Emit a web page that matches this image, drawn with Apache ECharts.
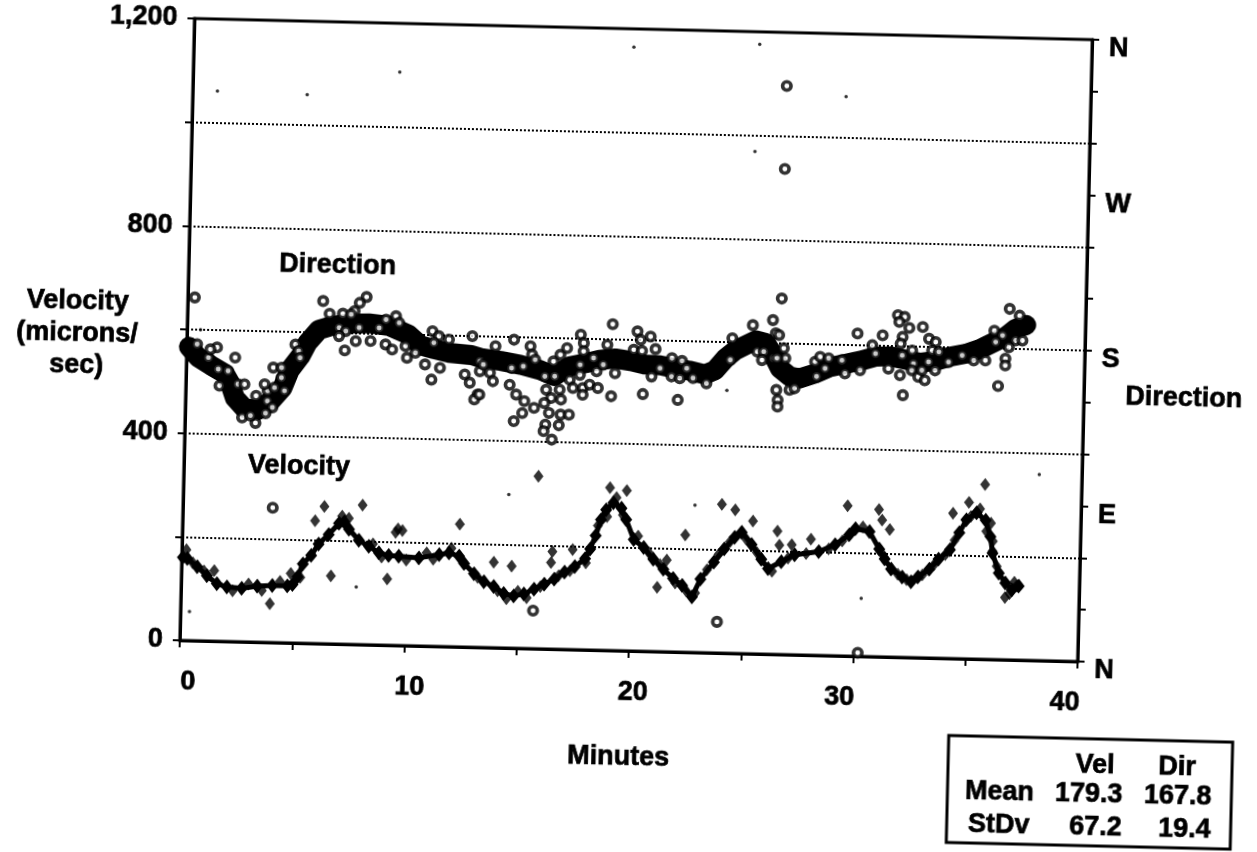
<!DOCTYPE html>
<html>
<head>
<meta charset="utf-8">
<script src="https://cdn.jsdelivr.net/npm/echarts@6.0.0/dist/echarts.min.js"></script>
<style>
html,body{margin:0;padding:0;background:#fff;overflow:hidden;width:1257px;height:852px;}
#chart{position:absolute;left:0;top:0;width:1257px;height:852px;transform:rotate(1.35deg);transform-origin:636px 340px;}
</style>
</head>
<body>
<div id="chart"></div>
<script>
// ---- data ----
// Direction (degrees, right axis): dense band centre
const directionBand = [[0.1,170],[0.52,164],[1.1,159.5],[1.72,155],[1.95,150],[2.2,141],[2.6,135.6],[3.19,134],[3.82,140],[4.31,147.6],[4.62,158],[5.07,166],[5.38,174],[5.87,181.6],[6.45,184],[7.2,185.5],[8.09,186],[8.98,184.8],[9.87,180],[10.4,174],[11.0,172],[11.7,170],[12.7,169],[13.1,167.5],[14.0,166],[14.9,164],[15.75,161.3],[16.4,158],[17.1,164],[17.8,166],[18.4,168],[19.1,169],[19.8,167.7],[20.4,166],[21.1,165.7],[21.8,164],[22.4,163],[23.1,161],[23.55,163.6],[24.0,170.6],[24.44,175.4],[24.88,178.4],[25.33,181.4],[25.78,180],[26.09,174],[26.44,165.5],[26.89,161],[27.33,160],[28.0,163],[28.67,167],[29.34,169],[30.0,171],[30.67,173.6],[31.34,174],[32.0,172.3],[32.67,170.7],[33.34,172],[34.0,174.6],[34.69,176.5],[35.36,179.6],[36.0,184],[36.46,187],[36.9,191.7],[37.36,194]];
// Direction: individual open circles
const directionPoints = [[0.31,198.6],[6.03,198.3],[7.96,201.2],[7.66,197.7],[7.44,192.9],[6.33,191],[6.92,191.2],[7.29,190.9],[8.85,188.4],[9.29,190.5],[9.44,186.7],[6.77,183],[7.07,181.2],[7.66,183.3],[6.77,178.2],[7.52,175.5],[7.04,170],[8.18,175.8],[8.85,174],[9.15,171.2],[9.74,173.3],[9.82,166.6],[10.19,169.6],[10.93,182.3],[11.22,179.5],[11.0,175.6],[11.67,177.7],[12.71,180],[11.3,161.2],[10.93,154.3],[10.63,163],[12.41,157.7],[12.64,153],[13.0,146.2],[12.86,143.4],[13.08,159.8],[13.08,165.6],[4.84,172.8],[4.99,169],[5.06,165.1],[3.88,159.1],[4.25,159.2],[4.25,153.4],[3.65,145.5],[3.95,147.5],[4.4,145.8],[3.51,149.3],[3.14,142.5],[3.65,139.6],[3.88,136],[3.58,132.5],[3.14,126.8],[2.54,129.8],[2.91,131],[2.32,149],[2.61,149],[1.5,147.9],[0.98,164],[1.35,170],[1.06,168.8],[0.46,171.6],[2.17,164.4],[1.87,156.6],[1.43,157.4],[8.55,183.5],
[13.75,174.5],[14.57,178.5],[13.23,163.7],[13.53,159],[13.67,154.2],[13.08,146.3],[14.49,162.1],[14.42,152.4],[14.72,146.8],[15.01,163.2],[15.31,174.9],[15.39,170.1],[15.53,167.2],[15.09,143.1],[15.53,139.3],[15.01,136.2],[14.64,131.4],[15.98,157.7],[16.42,157.9],[16.05,150],[16.65,150.2],[16.28,145.3],[16.72,144.5],[15.98,142.3],[16.2,136.6],[16.72,135.8],[17.09,135.9],[16.05,129.8],[16.65,129.6],[15.98,126],[16.35,121.2],[16.35,166.5],[16.65,170.4],[16.94,174.4],[17.54,182.3],[17.68,177.5],[17.68,172.7],[17.09,156.1],[17.54,159.1],[17.24,151.4],[17.68,151.5],[17.98,153.5],[17.68,147.6],[18.35,151.7],[18.95,147.1],[18.73,176.8],[18.95,188.8],[20.06,185],[20.21,180.1],[20.65,182.2],[19.91,174.3],[20.28,173.8],[20.88,175],[17.54,164.9],[18.28,161.3],[18.57,165.2],[19.1,160.5],[18.13,169],[20.36,148.8],[20.73,159.1],[21.1,164],[21.62,170],[22.07,168.5],[22.29,164.3],[21.62,159.4],[21.99,158.5],[22.58,158.7],[21.92,145.9],[23.18,155.9],[24.22,169.7],[24.29,182.3],[25.19,190.2],[26.08,193.4],[26.45,206],[25.41,174.9],[25.7,175],[25.63,170.1],[26.15,171.3],[26.22,185.7],[26.3,153],[26.37,147.2],[26.37,143.4],
[26.37,184.8],[26.59,177.2],[26.67,171.4],[26.3,171.4],[26.89,153.2],[27.11,154.2],[28.0,169.9],[28.22,172.8],[28.6,172],[28.08,161.3],[28.45,166.1],[29.34,163.5],[29.86,186.8],[30.01,165.5],[30.53,180.2],[30.98,186.1],[30.68,175.4],[31.27,166.9],[31.79,163.2],[31.94,151.7],[31.64,197.9],[31.94,197],[31.71,194],[32.16,190.7],[32.76,191.4],[31.87,185.4],[31.79,181.5],[32.31,177.7],[31.87,174.7],[32.38,170.1],[32.31,166.2],[32.61,162.5],[32.9,160.6],[33.05,184.7],[33.35,182.9],[33.2,178],[33.5,177.2],[33.05,171.3],[33.35,166.5],[32.76,166.4],[35.06,172.8],[35.58,172.9],[35.95,190.3],[36.32,187.6],[36.61,203.1],[37.06,199.3],[36.91,184.9],[37.21,184.9],[36.61,180.9],[36.47,174.2],[36.47,170.3],[36.17,158.3],[36.02,183.7],[34.54,175.5],[33.94,171.5],[29.19,171.1]];
const directionOutliers = [[26.45,329],[26.45,281],[4.0,78],[15.7,22],[23.9,18],[30.2,2]];

// Velocity (microns/sec, left axis): band centre
const velocityBand = [[0.05,160],[0.25,158],[0.7,143],[1.14,126],[1.59,111],[2.04,105],[2.7,103],[3.39,108],[4.06,110],[4.73,110],[4.96,113],[5.18,128],[5.4,153],[5.76,170],[6.08,192],[6.52,211],[6.97,233],[7.2,236],[7.42,222],[7.87,201],[8.32,190],[8.77,178],[9.21,173],[9.66,172],[10.56,170],[11.46,177],[11.9,181],[12.35,175],[12.58,161],[13.03,142],[13.48,127],[13.92,118],[14.37,105],[14.82,101],[15.27,105],[15.72,115],[16.17,125],[16.61,135],[17.06,149],[17.51,160],[17.96,176],[18.18,195],[18.41,221],[18.63,252],[18.85,271],[19.17,285],[19.53,275],[19.75,253],[20.11,215],[20.56,200],[21.0,178],[21.46,159],[21.9,142],[22.31,129],[22.76,107],[23.12,142],[23.7,175],[24.15,201],[24.6,224],[24.91,234],[25.36,211],[25.81,183],[26.12,165],[26.7,179],[27.29,193],[28.36,200],[29.08,214],[29.7,234],[29.97,246],[30.6,241],[31.05,208],[31.3,189],[31.6,170],[32.1,155],[32.5,146],[32.8,156],[33.3,171],[33.7,191],[34.2,210],[34.6,243],[34.9,268],[35.35,282],[35.76,268],[35.99,237],[36.1,205],[36.4,167],[36.7,148],[37.0,135],[37.3,143]];
// Velocity: scattered diamonds around the band
const velocityPoints = [[1.46,136],[3.97,75],[6.66,131],[9.17,128],[6.3,265],[8.0,269],[5.9,237],[9.6,225],[9.5,218],[4.87,134],[5.3,127],[7.1,247],[7.4,243],[15.8,333],[12.35,237],[9.8,222],[19.0,314],[19.75,309],[24.0,287],[24.6,277],[25.4,256],[29.6,290],[13.9,165],[14.7,158],[16.5,188],[16.45,167],[17.4,193],[21.2,124],[21.6,177],[22.4,226],[26.5,238],[26.6,211],[27.15,212],[28.0,224],[31.0,284],[31.15,264],[31.5,246],[35.7,337],[35.0,302],[34.3,280],[36.0,263],[36.1,228],[36.1,209],[35.8,247],[36.7,120],[37.2,143],
[0.2,175],[0.5,150],[1.0,135],[2.3,98],[3.0,112],[3.6,100],[4.4,118],[8.5,195],[8.9,170],[10.0,165],[10.9,180],[11.2,168],[12.0,190],[13.2,135],[14.1,110],[14.5,95],[15.0,110],[15.4,98],[16.0,120],[16.8,142],[17.3,152],[18.0,168],[18.5,240],[18.9,258],[19.3,295],[19.6,262],[20.3,222],[20.8,190],[21.3,168],[22.0,133],[22.5,118],[22.9,115],[23.4,160],[23.9,190],[24.4,215],[25.1,222],[25.6,196],[26.3,160],[27.0,186],[27.8,196],[28.8,206],[29.4,222],[30.3,250],[31.2,198],[31.9,160],[32.3,150],[33.0,160],[33.5,180],[34.0,200],[34.4,228],[35.1,275],[35.5,290],[36.3,180],[36.9,128],[37.1,150]];
// tiny stray dots (left-axis units)
const strayDots = [[1.1,1061],[5.1,1058],[9.2,1106],[19.6,1165],[25.2,1176],[29.1,1079],[25.1,969],[38.1,359],[14.5,296],[22.8,284],[30.3,112],[0.4,56],[7.8,111],[24.1,507],[0.6,600]];

// axis labels
const compassLabels = {0:'N',90:'E',180:'S',270:'W',360:'N'};
const velocityTickLabels = [0,400,800,1200];
const minuteTickLabels = [0,10,20,30,40];
// stats box
const statsHeader = ['Vel','Dir'];
const statsRows = [['Mean','179.3','167.8'],['StDv','67.2','19.4']];

// ---- chart ----
const FONT = '"Liberation Sans", Arial, sans-serif';
const FS = 27;
const chart = echarts.init(document.getElementById('chart'), null, {renderer:'canvas'});
const txt = (text, x, y, size, align) => ({type:'text', silent:true, style:{text, x, y, fill:'#000', stroke:'#000', lineWidth:0.7, font:'bold '+size+'px '+FONT, align:align||'center', verticalAlign:'middle'}});

const graphics = [
  {type:'text', silent:true, style:{text:'Velocity\n(microns/\nsec)', x:77, y:347, fill:'#000', stroke:'#000', lineWidth:0.7, font:'bold '+FS+'px '+FONT, align:'center', verticalAlign:'middle', lineHeight:32}},
  txt('Direction', 1185, 386, FS),
  txt('Minutes', 628, 758, FS),
  txt('Direction', 336, 273, FS),
  txt('Velocity', 302, 475, FS),
  {type:'rect', silent:true, shape:{x:958, y:728, width:284, height:107}, style:{fill:'none', stroke:'#000', lineWidth:3}},
  txt(statsHeader[0], 1105, 755, FS),
  txt(statsHeader[1], 1187, 755, FS)
];
const rowY = [784, 817];
statsRows.forEach((r, i) => {
  graphics.push(txt(r[0], 1010, rowY[i], FS));
  graphics.push(txt(r[1], 1133, rowY[i], FS, 'right'));
  graphics.push(txt(r[2], 1222, rowY[i], FS, 'right'));
});

const labelBase = {color:'#000', fontWeight:'bold', fontSize:FS, fontFamily:FONT, textBorderColor:'#000', textBorderWidth:0.7};
// small horizontal nudges of the minute labels, as printed
const minuteLabelPad = {0:[0,0,0,18], 10:[0,0,0,12], 20:[0,0,0,10], 30:[0,26,0,0], 40:[0,24,0,0]};
const rich = {};
minuteTickLabels.forEach(v => { rich['m'+v] = Object.assign({padding:minuteLabelPad[v]}, labelBase); });

chart.setOption({
  animation:false,
  backgroundColor:'#fff',
  grid:{left:187, top:29, width:898, height:622, show:true, borderColor:'#000', borderWidth:3, containLabel:false, outerBoundsMode:'none'},
  xAxis:{type:'value', min:0, max:40, interval:5,
    axisLine:{show:true, lineStyle:{color:'#000', width:3}},
    axisTick:{show:true, inside:false, length:7, lineStyle:{color:'#000', width:2}},
    axisLabel:Object.assign({margin:28, rich:rich, showMinLabel:true, showMaxLabel:true,
      formatter:v => minuteTickLabels.includes(v) ? '{m'+v+'|'+v+'}' : ''}, labelBase),
    splitLine:{show:false}},
  yAxis:[
    {type:'value', min:0, max:1200, interval:200, position:'left',
      axisLine:{show:true, lineStyle:{color:'#000', width:3}},
      axisTick:{show:true, inside:false, length:7, lineStyle:{color:'#000', width:2}},
      axisLabel:Object.assign({margin:17, showMinLabel:true, showMaxLabel:true,
        formatter:v => velocityTickLabels.includes(v) ? v.toLocaleString('en-US') : ''}, labelBase),
      splitLine:{show:true, lineStyle:{color:'#000', width:2, type:[2,2]}}},
    {type:'value', min:0, max:360, interval:30, position:'right',
      axisLine:{show:true, lineStyle:{color:'#000', width:3}},
      axisTick:{show:true, inside:false, length:7, lineStyle:{color:'#000', width:2}},
      axisLabel:Object.assign({margin:17, showMinLabel:true, showMaxLabel:true, verticalAlign:'top', lineHeight:18,
        formatter:v => compassLabels[v] || ''}, labelBase),
      splitLine:{show:false}}
  ],
  series:[
    {type:'line', name:'dirBand', yAxisIndex:1, data:directionBand, showSymbol:false, silent:true, z:2,
      lineStyle:{color:'#000', width:20, cap:'round', join:'round'}},
    {type:'scatter', name:'dirPts', yAxisIndex:1, data:directionPoints.concat(directionOutliers), symbol:'circle', symbolSize:8.5, silent:true, z:3,
      itemStyle:{color:'#fff', borderColor:'#000', borderWidth:3.6}},
    {type:'line', name:'velBand', yAxisIndex:0, data:velocityBand, symbol:'diamond', symbolSize:[12,15], showSymbol:true, showAllSymbol:true, silent:true, z:4,
      itemStyle:{color:'#000'}, lineStyle:{color:'#000', width:5, join:'round'}},
    {type:'scatter', name:'velPts', yAxisIndex:0, data:velocityPoints, symbol:'diamond', symbolSize:[10,13], silent:true, z:5,
      itemStyle:{color:'#000'}},
    {type:'scatter', name:'dots', yAxisIndex:0, data:strayDots, symbol:'circle', symbolSize:3.5, silent:true, z:5,
      itemStyle:{color:'#000'}}
  ],
  graphic:graphics
});
</script>
</body>
</html>
